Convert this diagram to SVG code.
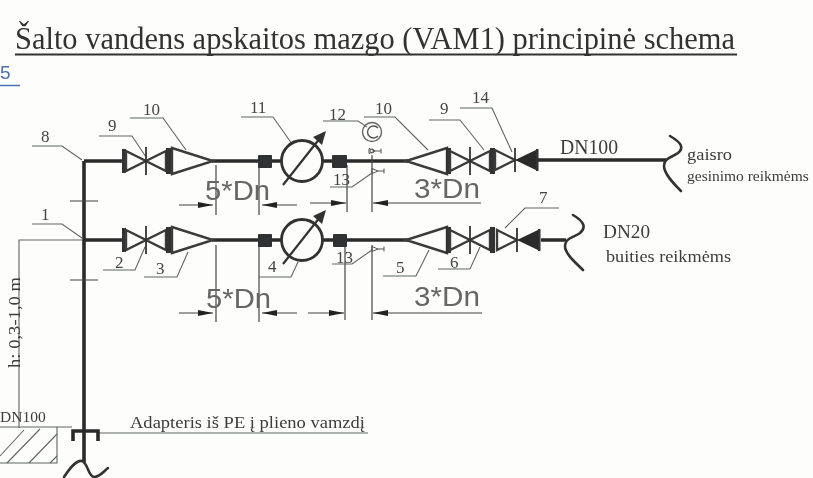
<svg xmlns="http://www.w3.org/2000/svg" width="813" height="478" viewBox="0 0 813 478">
<defs>
<style>
.pipe{fill:none;stroke:#2c2c2c;stroke-width:3.6}
.sym{fill:#fdfdfb;stroke:#3a3a3a;stroke-width:2.4;stroke-linejoin:miter}
.fl{fill:#333;stroke:none}
.thin{fill:none;stroke:#5f6660;stroke-width:1.1}
.dim{fill:none;stroke:#444;stroke-width:1.2}
.lab{font-family:"Liberation Serif",serif;font-size:17px;fill:#444}
.small{font-family:"Liberation Serif",serif;font-size:17px;fill:#3c3c3c}
.dn{font-family:"Liberation Sans",sans-serif;font-size:28px;fill:#666}
.hook{fill:none;stroke:#333;stroke-width:2.6;stroke-linecap:round}
.blk{fill:#2f3330}
</style>
<filter id="soft" x="-5%" y="-5%" width="110%" height="110%"><feGaussianBlur stdDeviation="0.55"/></filter>
<marker id="arr" viewBox="0 0 16 7" refX="15" refY="3.5" markerWidth="16" markerHeight="7" markerUnits="userSpaceOnUse" orient="auto"><path d="M0 0.5L15 3.5L0 6.5z" fill="#222"/></marker>
<g id="valve">
<rect class="fl" x="-24" y="-12" width="4" height="24"/>
<path class="sym" d="M-20-10L0 0L-20 10z"/>
<path class="sym" d="M20-10L0 0L20 10z"/>
<path d="M0-14V14" fill="none" stroke="#333" stroke-width="1.8"/>
<rect class="fl" x="20" y="-13" width="5" height="26"/>
</g>
<g id="reducerR">
<path class="sym" d="M0-13L41 0L0 13z"/>
</g>
<g id="reducerL">
<path class="sym" d="M0-13L-41 0L0 13z"/>
</g>
<g id="meter">
<circle r="20.5" fill="#fdfdfb" stroke="#333" stroke-width="2.8"/>
<path d="M-19 24L22-28" fill="none" stroke="#333" stroke-width="2.2"/>
<path d="M24-30L11-24L20-16z" fill="#333"/>
</g>
<g id="check">
<path class="sym" d="M-20-10L0 0L-20 10z"/>
<path d="M0-12V12" fill="none" stroke="#333" stroke-width="1.8"/>
<path d="M0 0L23-11V11z" fill="#2b2b2b"/>
<rect class="fl" x="21" y="-11" width="2.5" height="22"/>
</g>
<g id="tap"><path d="M-3-2.5L3 0L-3 2.5zM3 0H9M9-2.5V2.5" fill="none" stroke="#555" stroke-width="1"/></g>
</defs>
<rect id="paper" width="813" height="478" fill="#fdfdfb"/>
<g filter="url(#soft)">
<g id="title">
<text x="15" y="49" font-family="'Liberation Serif',serif" font-size="31px" fill="#333" textLength="720" lengthAdjust="spacingAndGlyphs">Šalto vandens apskaitos mazgo (VAM1) principinė schema</text>
<path d="M15 54.5H737" stroke="#333" stroke-width="1.8" fill="none"/>
</g>
<g id="page-link">
<text x="0" y="79" font-family="'Liberation Sans',sans-serif" font-size="19px" fill="#4a6fb0">5</text>
<path d="M0 85.5H20" stroke="#4a6fb0" stroke-width="1.5" fill="none"/>
</g>
<g id="connectors">
<path class="pipe" d="M84 161V462M84 161H124M212 161H284M320 161H410M538 160H666"/>
<path class="pipe" d="M84 240H124M212 240H284M320 240H410M541 240H566"/>
<path d="M70 201H98M70 280H98" class="dim"/>
<path class="thin" d="M82 240H19V428"/>
<path class="thin" d="M0 427H72M98 433H368"/>
<path class="dim" d="M216 165V215M259 165V215"/>
<path class="dim" d="M179 205H213" marker-end="url(#arr)"/><path class="dim" d="M297 205H262" marker-end="url(#arr)"/>
<path class="dim" d="M179 313H213" marker-end="url(#arr)"/><path class="dim" d="M297 313H262" marker-end="url(#arr)"/>
<path class="dim" d="M216 245V322M259 245V322"/>
<path class="dim" d="M310 203H346" marker-end="url(#arr)"/><path class="dim" d="M481 203H373" marker-end="url(#arr)"/>
<path class="dim" d="M347 165V212M372 155V212"/>
<path class="dim" d="M308 313H344" marker-end="url(#arr)"/><path class="dim" d="M482 313H373" marker-end="url(#arr)"/>
<path class="dim" d="M345 245V320M372 245V320"/>
<path class="thin" d="M32 146H62L82 160M32 224H62L82 238"/>
<path class="thin" d="M99 136H132L146 157M130 118H163L186 150M241 117H273L302 158M323 121H358L367 127M364 117H395L428 150M429 120H460L484 150M460 108H492L512 152"/>
<path class="thin" d="M330 187H352L372 173M332 264H352L372 250"/>
<path class="thin" d="M103 270H135L145 247M144 277H177L188 252M259 277H291L298 262M383 276H416L429 250M438 269H470L480 247M559 208H525L505 228"/>
</g>
<g id="riser-top-valves">
<use href="#valve" x="146" y="161"/>
<use href="#reducerR" x="172" y="161"/>
<rect class="blk" x="258" y="155" width="14" height="13" rx="1"/>
<use href="#meter" x="302" y="161"/>
<rect class="blk" x="332" y="155" width="15" height="13" rx="1"/>
<use href="#reducerL" x="447" y="161"/>
<rect class="fl" x="446" y="148" width="5" height="26"/>
<use href="#valve" x="470" y="161"/>
<use href="#check" x="515" y="160"/>
</g>
<g id="riser-bottom-valves">
<use href="#valve" x="146" y="240"/>
<use href="#reducerR" x="172" y="240"/>
<rect class="blk" x="258" y="234" width="14" height="13" rx="1"/>
<use href="#meter" x="302" y="240"/>
<rect class="blk" x="333" y="234" width="14" height="13" rx="1"/>
<use href="#reducerL" x="447" y="240"/>
<rect class="fl" x="446" y="227" width="5" height="26"/>
<use href="#valve" x="470" y="240"/>
<use href="#check" x="517" y="240"/>
</g>
<g id="gauge">
<circle cx="372" cy="132" r="9.5" fill="none" stroke="#666" stroke-width="1.4"/>
<path d="M378 128A6 6 0 1 0 378 136" fill="none" stroke="#555" stroke-width="1.4"/>
<use href="#tap" x="372" y="151"/>
<circle cx="372" cy="151" r="2" fill="none" stroke="#555"/>
<use href="#tap" x="375" y="171"/>
<use href="#tap" x="375" y="249"/>
</g>
<g id="hook-top"><path class="hook" d="M670 136C682 143 684 148 678 153C671 158 664 158 664 166C664 174 674 184 681 191"/></g>
<g id="hook-bottom"><path class="hook" d="M573 215C585 222 586 228 580 233C573 238 565 238 565 246C565 254 576 263 583 270"/></g>
<g id="adapter">
<path d="M73 441V431H98V441" fill="none" stroke="#2c2c2c" stroke-width="3.6"/>
<path class="hook" d="M64 477C70 468 76 460 82 461C88 463 88 476 94 477C100 477 104 471 108 468" stroke-width="3"/>
</g>
<g id="ground">
<path class="thin" d="M57 427V463H0"/>
<path class="thin" d="M0 456L24 430M7 463L40 429M29 463L57 434M50 463L57 456"/>
</g>
<g id="labels">
<text class="lab" x="41" y="142">8</text>
<text class="lab" x="108" y="131">9</text>
<text class="lab" x="143" y="115">10</text>
<text class="lab" x="250" y="113">11</text>
<text class="lab" x="329" y="120">12</text>
<text class="lab" x="375" y="114">10</text>
<text class="lab" x="440" y="114">9</text>
<text class="lab" x="472" y="103">14</text>
<text class="lab" x="41" y="220">1</text>
<text class="lab" x="115" y="268">2</text>
<text class="lab" x="156" y="274">3</text>
<text class="lab" x="268" y="272">4</text>
<text class="lab" x="396" y="273">5</text>
<text class="lab" x="450" y="268">6</text>
<text class="lab" x="539" y="203">7</text>
<text class="lab" x="333" y="185">13</text>
<text class="lab" x="336" y="263">13</text>
<text class="dn" x="205" y="200" textLength="65" lengthAdjust="spacingAndGlyphs">5*Dn</text>
<text class="dn" x="206" y="308" textLength="65" lengthAdjust="spacingAndGlyphs">5*Dn</text>
<text class="dn" x="414" y="198" textLength="66" lengthAdjust="spacingAndGlyphs">3*Dn</text>
<text class="dn" x="414" y="306" textLength="66" lengthAdjust="spacingAndGlyphs">3*Dn</text>
<text class="small" x="560" y="154" style="font-size:20px" textLength="58" lengthAdjust="spacingAndGlyphs">DN100</text>
<text class="small" x="687" y="160" textLength="45" lengthAdjust="spacingAndGlyphs">gaisro</text>
<text class="small" x="687" y="181" style="font-size:15.5px">gesinimo reikmėms</text>
<text class="small" x="603" y="238" style="font-size:19px" textLength="47" lengthAdjust="spacingAndGlyphs">DN20</text>
<text class="small" x="606" y="262" textLength="125" lengthAdjust="spacingAndGlyphs">buities reikmėms</text>
<text class="small" x="130" y="428" textLength="235" lengthAdjust="spacingAndGlyphs">Adapteris iš PE į plieno vamzdį</text>
<text class="small" x="0" y="422" style="font-size:15.5px">DN100</text>
<text class="small" transform="translate(20 368) rotate(-90)" textLength="91" lengthAdjust="spacingAndGlyphs">h: 0,3-1,0 m</text>
</g>
</g>
</svg>
